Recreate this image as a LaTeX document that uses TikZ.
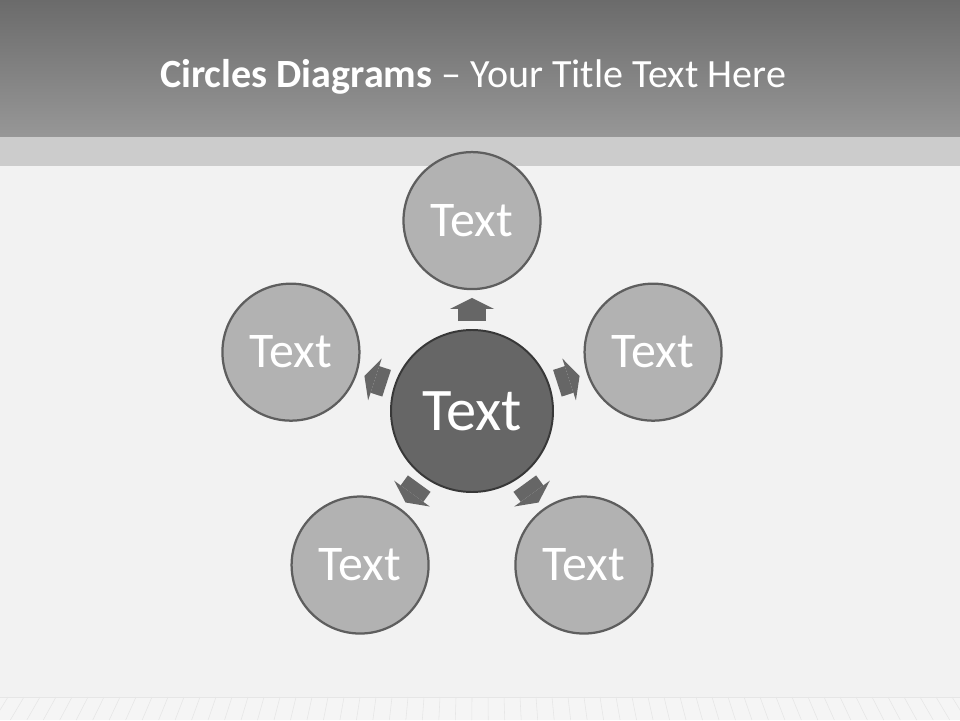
\documentclass[tikz,border=0pt]{standalone}
\usepackage{fontspec}
\setmainfont{Carlito}
\usetikzlibrary{arrows.meta, calc}
\definecolor{bartop}{HTML}{6B6B6B}
\definecolor{barbottom}{HTML}{979797}
\definecolor{bandgray}{HTML}{CCCCCC}
\definecolor{wallgray}{HTML}{F2F2F2}
\definecolor{floorgray}{HTML}{F5F5F5}
\definecolor{plankgray}{HTML}{E6E6E6}
\definecolor{hubfill}{HTML}{666666}
\definecolor{hubline}{HTML}{383838}
\definecolor{satfill}{HTML}{B2B2B2}
\definecolor{satline}{HTML}{5E5E5E}
\tikzstyle{hub} = [circle, minimum size=4.05cm, inner sep=0pt, outer sep=0pt, fill=hubfill, draw=hubline, line width=1.4pt, text=white, font=\fontsize{43}{48}\selectfont]
\tikzstyle{sat} = [circle, minimum size=3.425cm, inner sep=0pt, outer sep=0pt, fill=satfill, draw=satline, line width=1.6pt, text=white, font=\fontsize{35.5}{40}\selectfont]
\tikzstyle{flow} = [draw=hubfill, line width=0.7cm, -{Triangle[width=1.1cm, length=0.275cm, line width=0pt]}, shorten <=0.22cm, shorten >=0.22cm]
\tikzstyle{plank} = [draw=plankgray, line width=0.4pt]
\begin{document}
\begin{tikzpicture}
\useasboundingbox (0,0) rectangle (24,18);
\fill[wallgray] (0,0) rectangle (24,18);
\fill[floorgray] (0,0) rectangle (24,0.575);
\draw[plank] (0,0.575) -- (24,0.575);
\foreach \x in {0.2,0.6,...,24}
    \draw[plank] (\x,0.575) -- ({12+(\x-12)*1.03},0);
\shade[top color=bartop, bottom color=barbottom] (0,14.575) rectangle (24,18);
\fill[bandgray] (0,13.85) rectangle (24,14.575);
\node[anchor=base west, inner sep=0pt, text=white, font=\fontsize{28.5}{32}\selectfont] (title) at (4,15.8) {\textbf{Circles Diagrams} – Your Title Text Here};
\node[hub] (hub) at (11.8,7.725) {Text};
\foreach \a [count=\i] in {90,18,306,234,162} {
    \node[sat] (sat\i) at ($(hub)+(\a:4.76)$) {Text};
    \draw[flow] (hub) -- (sat\i);
}
\end{tikzpicture}
\end{document}
